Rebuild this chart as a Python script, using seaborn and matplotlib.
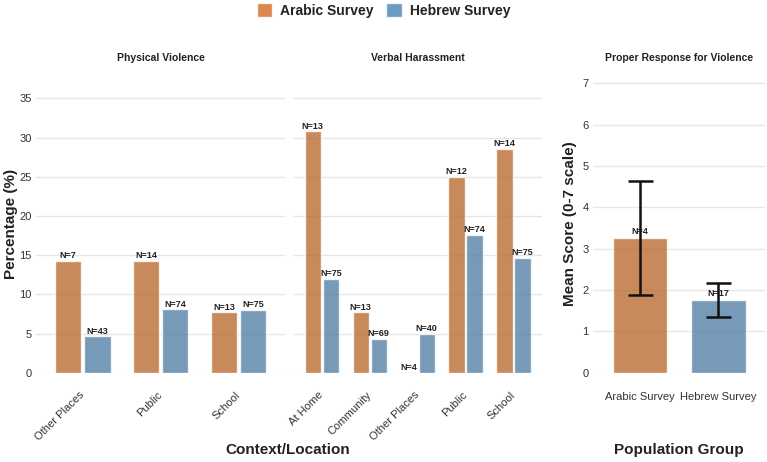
import matplotlib
matplotlib.use("Agg")
import matplotlib.pyplot as plt
from matplotlib.patches import Patch
import pandas as pd
import seaborn as sns

# ========== DATA ==========
SURVEYS = ["Arabic Survey", "Hebrew Survey"]

physical_locations = ["Other Places", "Public", "School"]
physical_arabic = [14.3, 14.3, 7.7]
physical_hebrew = [4.65, 8.1, 8.0]
physical_n_arabic = [7, 14, 13]
physical_n_hebrew = [43, 74, 75]

verbal_locations = ["At Home", "Community", "Other Places", "Public", "School"]
verbal_arabic = [30.8, 7.7, 0.0, 25.0, 28.6]
verbal_hebrew = [12.0, 4.35, 5.0, 17.6, 14.7]
verbal_n_arabic = [13, 13, 4, 12, 14]
verbal_n_hebrew = [75, 69, 40, 74, 75]

response_mean = [3.25, 1.76]
response_low = [1.88, 1.35]
response_high = [4.63, 2.18]
response_n = [4, 17]
# ===========================

COLORS = {"Arabic Survey": "#D2691E", "Hebrew Survey": "#4682B4"}
ALPHA = 0.8
TEXT = "#222222"


def make_long(locations, arabic, hebrew):
    rows = []
    for loc, a, h in zip(locations, arabic, hebrew):
        rows.append({"location": loc, "survey": "Arabic Survey", "pct": a})
        rows.append({"location": loc, "survey": "Hebrew Survey", "pct": h})
    return pd.DataFrame(rows)


def style_axis(ax):
    ax.grid(axis="y", color="#e6e6e6", linewidth=1.0)
    ax.grid(axis="x", visible=False)
    ax.set_axisbelow(True)
    for s in ax.spines.values():
        s.set_visible(False)
    ax.tick_params(axis="both", length=0, labelsize=8, labelcolor="#333333")
    ax.tick_params(axis="y", pad=3)
    ax.set_xlabel("")
    ax.set_ylabel("")


def draw_panel(ax, locations, arabic, hebrew, n_ar, n_he, title, show_y):
    df = make_long(locations, arabic, hebrew)
    sns.barplot(data=df, x="location", y="pct", hue="survey", order=locations,
                hue_order=SURVEYS, palette=COLORS, alpha=ALPHA, width=0.75,
                gap=0.1, legend=False, ax=ax)
    for cont, ns in zip(ax.containers, [n_ar, n_he]):
        ax.bar_label(cont, labels=[f"N={n}" for n in ns], padding=0.5,
                     fontsize=6.5, fontweight="bold", color=TEXT)
    style_axis(ax)
    ax.set_ylim(0, 38)
    ax.set_yticks(range(0, 36, 5))
    ax.set_xlim(-0.6, len(locations) - 0.4)
    ax.set_title(title, fontsize=7.5, fontweight="bold", color=TEXT, pad=10)
    ax.tick_params(axis="x", pad=15)
    for lab in ax.get_xticklabels():
        lab.set_rotation(45)
        lab.set_ha("right")
        lab.set_va("center")
        lab.set_rotation_mode("anchor")
    if not show_y:
        ax.set_yticklabels([])


plt.rcParams["font.family"] = ["Liberation Sans", "DejaVu Sans"]
sns.set_style("white")
plt.rcParams["font.family"] = ["Liberation Sans", "DejaVu Sans"]

fig = plt.figure(figsize=(7.67, 4.62), dpi=100)
ax1 = fig.add_axes([0.047, 0.193, 0.325, 0.645])
ax2 = fig.add_axes([0.382, 0.193, 0.325, 0.645])
ax3 = fig.add_axes([0.773, 0.193, 0.225, 0.645])

draw_panel(ax1, physical_locations, physical_arabic, physical_hebrew,
           physical_n_arabic, physical_n_hebrew, "Physical Violence", True)
draw_panel(ax2, verbal_locations, verbal_arabic, verbal_hebrew,
           verbal_n_arabic, verbal_n_hebrew, "Verbal Harassment", False)
ax1.set_ylabel("Percentage (%)", fontsize=11, fontweight="bold", color=TEXT, labelpad=1)
fig.text(0.375, 0.025, "Context/Location", ha="center", va="center",
         fontsize=11, fontweight="bold", color=TEXT)

# right panel: mean score with error bars
df_resp = pd.DataFrame({"survey": SURVEYS, "mean": response_mean})
sns.barplot(data=df_resp, x="survey", y="mean", hue="survey", order=SURVEYS,
            hue_order=SURVEYS, palette=COLORS, alpha=ALPHA, width=0.7,
            legend=False, ax=ax3)
err_lo = [m - lo for m, lo in zip(response_mean, response_low)]
err_hi = [hi - m for m, hi in zip(response_mean, response_high)]
ax3.errorbar(x=range(len(SURVEYS)), y=response_mean, yerr=[err_lo, err_hi],
             fmt="none", ecolor="#111111", elinewidth=1.8, capsize=9,
             capthick=1.8, zorder=5)
for i, (m, n) in enumerate(zip(response_mean, response_n)):
    ax3.annotate(f"N={n}", (i, m), xytext=(0, 1.5), textcoords="offset points",
                 ha="center", va="bottom", fontsize=6.5, fontweight="bold",
                 color=TEXT)
style_axis(ax3)
ax3.set_ylim(0, 7.2)
ax3.set_yticks(range(0, 8))
ax3.set_xlim(-0.6, 1.6)
ax3.tick_params(axis="x", pad=14)
ax3.set_title("Proper Response for Violence", fontsize=7.5, fontweight="bold",
              color=TEXT, pad=10)
ax3.set_ylabel("Mean Score (0-7 scale)", fontsize=11, fontweight="bold",
               color=TEXT, labelpad=4)
fig.text(0.885, 0.025, "Population Group", ha="center", va="center",
         fontsize=11, fontweight="bold", color=TEXT)

handles = [Patch(facecolor=COLORS[s], alpha=ALPHA, label=s) for s in SURVEYS]
leg = fig.legend(handles=handles, loc="upper center", bbox_to_anchor=(0.5, 1.02),
                 ncol=2, frameon=False, handlelength=1.1, handleheight=1.1,
                 handletextpad=0.6, columnspacing=0.9,
                 prop={"size": 10, "weight": "bold"})
for t in leg.get_texts():
    t.set_color(TEXT)

fig.savefig("out.png", dpi=100)
